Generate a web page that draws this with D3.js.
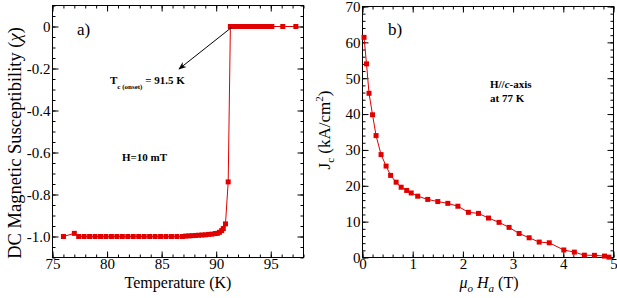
<!DOCTYPE html>
<html>
<head>
<meta charset="utf-8">
<script src="https://cdn.jsdelivr.net/npm/d3@7"></script>
<style>
  body { margin: 0; background: #fff; }
  svg { display: block; }
  text { font-family: "Liberation Serif", "Times New Roman", serif; fill: #000; }
  .domain { display: none; }
  .tick line { stroke: #000; stroke-width: 1; }
  .note { font-size: 11px; font-weight: bold; }
</style>
</head>
<body>
<div id="chart"></div>
<script>
//////////
// Data //
//////////

// panel a) susceptibility vs temperature
var tempK = [76.0, 77.0, 77.4, 77.9, 78.4, 78.9, 79.4, 79.9, 80.4, 80.9, 81.4, 81.9, 82.4, 82.9,
  83.4, 83.9, 84.4, 84.9, 85.4, 85.9, 86.4, 86.9, 87.2, 87.5, 87.8, 88.1, 88.4, 88.7, 89.0, 89.3,
  89.6, 89.9, 90.1, 90.3, 90.5, 90.65, 90.85, 91.1, 91.3, 91.5, 91.7, 91.9, 92.1, 92.3, 92.5, 92.7,
  92.9, 93.1, 93.3, 93.5, 93.7, 93.9, 94.1, 94.3, 94.5, 94.7, 94.9, 95.1, 96.1, 97.3];
var chi = [-1.0, -0.985, -1.0, -1.0, -1.0, -1.0, -1.0, -1.0, -1.0, -1.0, -1.0, -1.0, -1.0, -1.0,
  -1.0, -1.0, -1.0, -1.0, -1.0, -1.0, -1.0, -1.0, -0.998, -0.997, -0.996, -0.995, -0.994, -0.993, -0.992, -0.99,
  -0.989, -0.986, -0.985, -0.98, -0.972, -0.962, -0.94, -0.74, 0, 0, 0, 0, 0, 0, 0, 0,
  0, 0, 0, 0, 0, 0, 0, 0, 0, 0, 0, 0, 0, 0];
var tempTicks = [75, 80, 85, 90, 95];
var chiTicks = [0, -0.2, -0.4, -0.6, -0.8, -1.0];

// panel b) critical current density vs applied field
var fieldT = [0.03, 0.08, 0.13, 0.2, 0.27, 0.37, 0.47, 0.56, 0.67, 0.77, 0.88, 0.97, 1.1, 1.3, 1.5,
  1.7, 1.9, 2.11, 2.31, 2.51, 2.72, 2.92, 3.12, 3.32, 3.52, 3.72, 4.01, 4.22, 4.42, 4.62, 4.82, 4.91];
var jc = [61.4, 54, 45.8, 39.8, 34, 28.7, 25.5, 22.9, 21, 19.6, 18.7, 18, 17.1, 16.2, 15.6,
  15.1, 14.3, 12.6, 12.3, 11, 9.8, 8.4, 6.7, 5.5, 4.3, 4.1, 2.1, 1.5, 0.65, 0.6, 0.4, 0.1];
var fieldTicks = [0, 1, 2, 3, 4, 5];
var jcTicks = [0, 10, 20, 30, 40, 50, 60, 70];

var red = "#e00000";
var serif = "'Liberation Serif', 'Times New Roman', serif";

var svg = d3.select("#chart").append("svg")
    .attr("width", 617)
    .attr("height", 298);

// one axis group, with d3's sans-serif defaults swapped for the serif face
function axisGroup(g, tr, axis) {
  var a = g.append("g").attr("transform", tr).call(axis);
  a.attr("font-family", serif).attr("font-size", 15);
  a.selectAll("text").style("font-family", serif);
  return a;
}

// draws frame + inward ticks on all four sides
function drawFrame(g, xScale, yScale, xMajor, xMinor, yMajor, yMinor, yFmt) {
  var x0 = xScale.range()[0], x1 = xScale.range()[1];
  var y0 = yScale.range()[0], y1 = yScale.range()[1];
  var bot = "translate(0," + y0 + ")", top = "translate(0," + y1 + ")";
  var lft = "translate(" + x0 + ",0)", rgt = "translate(" + x1 + ",0)";

  axisGroup(g, bot, d3.axisBottom(xScale).tickValues(xMinor).tickSize(-3).tickFormat(""));
  axisGroup(g, bot, d3.axisBottom(xScale).tickValues(xMajor).tickSize(-6).tickPadding(1).tickFormat(d3.format("d")));
  axisGroup(g, top, d3.axisTop(xScale).tickValues(xMinor).tickSize(-3).tickFormat(""));
  axisGroup(g, top, d3.axisTop(xScale).tickValues(xMajor).tickSize(-6).tickFormat(""));

  axisGroup(g, lft, d3.axisLeft(yScale).tickValues(yMinor).tickSize(-3).tickFormat(""));
  axisGroup(g, lft, d3.axisLeft(yScale).tickValues(yMajor).tickSize(-6).tickPadding(2).tickFormat(yFmt));
  axisGroup(g, rgt, d3.axisRight(yScale).tickValues(yMinor).tickSize(-3).tickFormat(""));
  axisGroup(g, rgt, d3.axisRight(yScale).tickValues(yMajor).tickSize(-6).tickFormat(""));

  g.append("rect")
    .attr("x", x0).attr("y", y1)
    .attr("width", x1 - x0).attr("height", y0 - y1)
    .attr("fill", "none").attr("stroke", "#000").attr("stroke-width", 1);
}

function drawSeries(g, xs, ys, xScale, yScale) {
  var pts = xs.map(function(d, i) { return [d, ys[i]]; });
  var line = d3.line()
    .x(function(d) { return xScale(d[0]); })
    .y(function(d) { return yScale(d[1]); });
  g.append("path")
    .datum(pts)
    .attr("d", line)
    .attr("fill", "none")
    .attr("stroke", red)
    .attr("stroke-width", 1);
  g.selectAll("rect.pt")
    .data(pts)
    .enter().append("rect")
    .attr("class", "pt")
    .attr("x", function(d) { return xScale(d[0]) - 2.5; })
    .attr("y", function(d) { return yScale(d[1]) - 2.5; })
    .attr("width", 5)
    .attr("height", 5)
    .attr("fill", red);
}

//////////////
// Panel a) //
//////////////
var ga = svg.append("g");
var xA = d3.scaleLinear().domain([75, 98]).range([52.5, 303.5]);
var yA = d3.scaleLinear().domain([-1.1, 0.1]).range([257.5, 5.5]);

drawFrame(ga, xA, yA, tempTicks, d3.range(75, 99, 1), chiTicks, d3.range(-1.1, 0.11, 0.05),
  function(d) { return d === 0 ? "0" : d.toFixed(1); });
drawSeries(ga, tempK, chi, xA, yA);

ga.append("text").attr("x", 77).attr("y", 35).style("font-size", "17px").text("a)");

ga.append("text")
  .attr("x", 178).attr("y", 288)
  .attr("text-anchor", "middle")
  .style("font-size", "16px")
  .text("Temperature (K)");

var yLabA = ga.append("text")
  .attr("transform", "translate(21,143) rotate(-90)")
  .attr("text-anchor", "middle")
  .style("font-size", "18.5px");
yLabA.append("tspan").text("DC Magnetic Susceptibility (");
yLabA.append("tspan").style("font-style", "italic").text("χ");
yLabA.append("tspan").text(")");

// Tc annotation with arrow
svg.append("defs").append("marker")
  .attr("id", "arrow")
  .attr("viewBox", "0 0 10 10")
  .attr("refX", 9).attr("refY", 5)
  .attr("markerWidth", 8).attr("markerHeight", 8)
  .attr("orient", "auto")
  .append("path")
  .attr("d", "M0,1 L10,5 L0,9 L3,5 z")
  .attr("fill", "#000");

ga.append("line")
  .attr("x1", xA(91.4)).attr("y1", yA(0) + 1)
  .attr("x2", 179).attr("y2", 69)
  .attr("stroke", "#000").attr("stroke-width", 1)
  .attr("marker-end", "url(#arrow)");

var tc = ga.append("text").attr("class", "note").attr("x", 110).attr("y", 84);
tc.append("tspan").text("T");
tc.append("tspan").attr("dy", 5).style("font-size", "7px").text("c (onset)");
tc.append("tspan").attr("dy", -5).text(" = 91.5 K");

ga.append("text").attr("class", "note").attr("x", 122).attr("y", 161).text("H=10 mT");

//////////////
// Panel b) //
//////////////
var gb = svg.append("g");
var xB = d3.scaleLinear().domain([0, 5]).range([362.5, 613.5]);
var yB = d3.scaleLinear().domain([0, 70]).range([257.5, 6.5]);

drawFrame(gb, xB, yB, fieldTicks, d3.range(0, 5.01, 0.2), jcTicks, d3.range(0, 71, 2), d3.format("d"));
drawSeries(gb, fieldT, jc, xB, yB);

gb.append("text").attr("x", 388).attr("y", 35).style("font-size", "17px").text("b)");

var nb = gb.append("text").attr("class", "note").attr("x", 490).attr("y", 88);
nb.append("tspan").text("H//");
nb.append("tspan").style("font-style", "italic").text("c");
nb.append("tspan").text("-axis");
gb.append("text").attr("class", "note").attr("x", 490).attr("y", 102).text("at 77 K");

var xLabB = gb.append("text")
  .attr("x", 489).attr("y", 288)
  .attr("text-anchor", "middle")
  .style("font-size", "16px");
xLabB.append("tspan").style("font-style", "italic").text("μ");
xLabB.append("tspan").attr("dy", 4).style("font-style", "italic").style("font-size", "11px").text("o");
xLabB.append("tspan").attr("dy", -4).style("font-style", "italic").text(" H");
xLabB.append("tspan").attr("dy", 4).style("font-style", "italic").style("font-size", "11px").text("a");
xLabB.append("tspan").attr("dy", -4).text(" (T)");

var yLabB = gb.append("text")
  .attr("transform", "translate(330,130) rotate(-90)")
  .attr("text-anchor", "middle")
  .style("font-size", "17px");
yLabB.append("tspan").text("J");
yLabB.append("tspan").attr("dy", 4).style("font-size", "11px").text("c");
yLabB.append("tspan").attr("dy", -4).text(" (kA/cm");
yLabB.append("tspan").attr("dy", -7).style("font-size", "11px").text("2");
yLabB.append("tspan").attr("dy", 7).text(")");
</script>
</body>
</html>
